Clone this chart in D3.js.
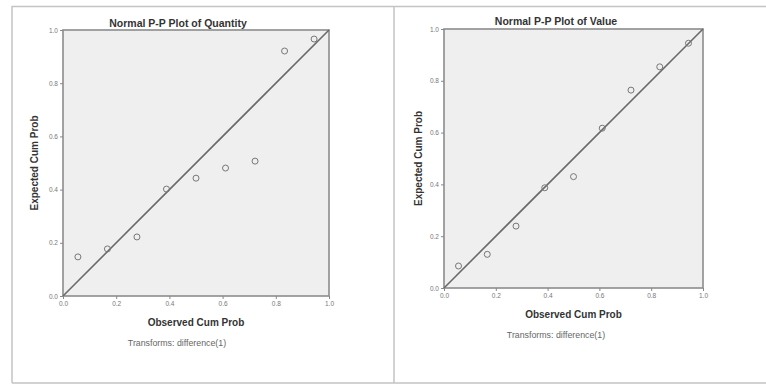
<!DOCTYPE html>
<html>
<head>
<meta charset="utf-8">
<script src="https://cdn.jsdelivr.net/npm/d3@7"></script>
<style>
  body { margin: 0; background: #fff; }
  svg { display: block; font-family: Arial, "Liberation Sans", sans-serif; }
</style>
</head>
<body>
<div class="chart"></div>
<script>
// values
const tickValues = [0.0, 0.2, 0.4, 0.6, 0.8, 1.0];
const quantityObserved = [0.056, 0.167, 0.278, 0.389, 0.500, 0.611, 0.722, 0.833, 0.944];
const quantityExpected = [0.147, 0.177, 0.222, 0.402, 0.443, 0.481, 0.507, 0.921, 0.966];
const valueObserved = [0.056, 0.167, 0.278, 0.389, 0.500, 0.611, 0.722, 0.833, 0.944];
const valueExpected = [0.085, 0.130, 0.239, 0.387, 0.430, 0.617, 0.764, 0.854, 0.945];
const titles = ["Normal P-P Plot of Quantity", "Normal P-P Plot of Value"];
const xLabel = "Observed Cum Prob";
const yLabel = "Expected Cum Prob";
const note = "Transforms: difference(1)";

const W = 766, H = 385;
const svg = d3.select(".chart").append("svg").attr("width", W).attr("height", H);

// outer frame of the output viewer
svg.append("path")
  .attr("d", "M12,383 V6.5 H766 M394,6.5 V383 M12,383 H766")
  .attr("fill", "none").attr("stroke", "#c4c4c4").attr("stroke-width", 1.5);

const panels = [
  { title: titles[0], obs: quantityObserved, exp: quantityExpected,
    left: 63, top: 30, size: 266, titleX: 178, titleY: 27, noteX: 177, ylabX: 38 },
  { title: titles[1], obs: valueObserved, exp: valueExpected,
    left: 444, top: 29, size: 259, titleX: 556, titleY: 25, noteX: 556, ylabX: 422 }
];

panels.forEach(p => {
  const x = d3.scaleLinear().domain([0, 1]).range([p.left, p.left + p.size]);
  const y = d3.scaleLinear().domain([0, 1]).range([p.top + p.size, p.top]);
  const g = svg.append("g");

  g.append("rect")
    .attr("x", x(0)).attr("y", y(1))
    .attr("width", x(1) - x(0)).attr("height", y(0) - y(1))
    .attr("fill", "#efefef").attr("stroke", "#8c8c8c").attr("stroke-width", 1.6);

  // reference diagonal
  g.append("line")
    .attr("x1", x(0)).attr("y1", y(0)).attr("x2", x(1)).attr("y2", y(1))
    .attr("stroke", "#6a6a6a").attr("stroke-width", 1.6);

  const xAxis = g.append("g")
    .attr("transform", `translate(0,${y(0)})`)
    .call(d3.axisBottom(x).tickValues(tickValues).tickFormat(d3.format(".1f")).tickSize(3).tickPadding(2));
  const yAxis = g.append("g")
    .attr("transform", `translate(${x(0)},0)`)
    .call(d3.axisLeft(y).tickValues(tickValues).tickFormat(d3.format(".1f")).tickSize(3).tickPadding(2));
  [xAxis, yAxis].forEach(a => {
    a.select(".domain").remove();
    a.selectAll("line").attr("stroke", "#888");
    a.selectAll("text").attr("fill", "#777").style("font-size", "6.5px");
  });

  g.selectAll("circle")
    .data(p.obs.map((o, i) => [o, p.exp[i]]))
    .join("circle")
    .attr("cx", d => x(d[0])).attr("cy", d => y(d[1]))
    .attr("r", 3)
    .attr("fill", "none").attr("stroke", "#777").attr("stroke-width", 1);

  g.append("text")
    .attr("x", p.titleX).attr("y", p.titleY)
    .attr("text-anchor", "middle").attr("fill", "#333")
    .style("font-size", "10.5px").style("font-weight", "bold")
    .text(p.title);

  g.append("text")
    .attr("x", (x(0) + x(1)) / 2).attr("y", y(0) + 30)
    .attr("text-anchor", "middle").attr("fill", "#333")
    .style("font-size", "10px").style("font-weight", "bold")
    .text(xLabel);

  g.append("text")
    .attr("x", p.noteX).attr("y", y(0) + 50)
    .attr("text-anchor", "middle").attr("fill", "#666")
    .style("font-size", "8.8px")
    .text(note);

  g.append("text")
    .attr("transform", `translate(${p.ylabX},${(y(0) + y(1)) / 2}) rotate(-90)`)
    .attr("text-anchor", "middle").attr("fill", "#333")
    .style("font-size", "10px").style("font-weight", "bold")
    .text(yLabel);
});
</script>
</body>
</html>
